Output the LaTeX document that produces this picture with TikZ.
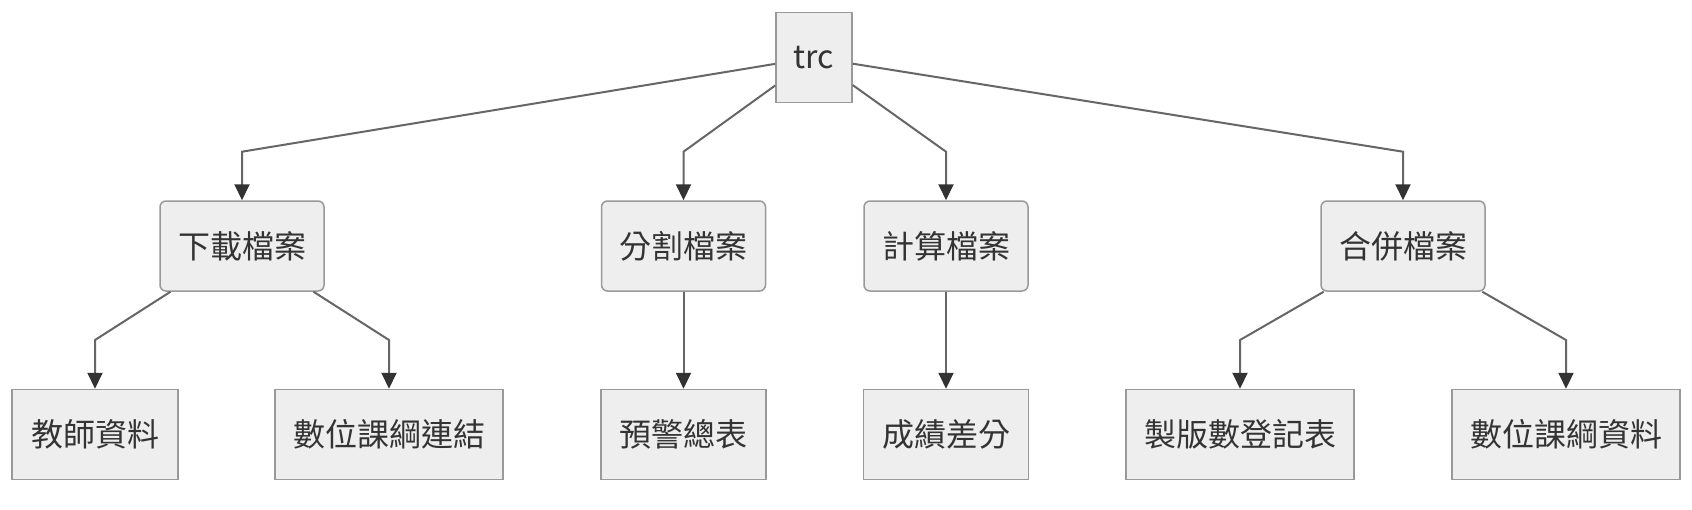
\documentclass[tikz,border=0pt]{standalone}
\usepackage{fontspec}
\setmainfont{Noto Sans CJK TC}
\usetikzlibrary{arrows.meta}
\definecolor{boxfill}{HTML}{EEEEEE}
\definecolor{boxline}{HTML}{999999}
\definecolor{edgeline}{HTML}{666666}
\definecolor{tipfill}{HTML}{333333}
\definecolor{labeltext}{HTML}{333333}
\tikzset{
	task/.style={draw=boxline, fill=boxfill, line width=1.5pt, text=labeltext, font=\fontsize{32}{38}\selectfont, minimum height=90pt, inner sep=0pt},
	roundtask/.style={task, rounded corners=6pt, minimum width=164pt},
	flow/.style={draw=edgeline, line width=2pt, -{Triangle[length=16pt,width=15pt,fill=tipfill,color=tipfill]}}
}

\begin{document}
\begin{tikzpicture}[x=1pt, y=-1pt]
			%%%%% START %%%%%
			
			\useasboundingbox (0, 0) rectangle (1692, 509);
			
			\coordinate (row1) at (0, 151.7);
			\coordinate (row2) at (0, 340);
			
			\node[task, minimum width=76pt] (trc) at (814, 57.5) {trc};
			
			\node[roundtask] (download) at (242, 246) {下載檔案};
			\node[roundtask] (split) at (683.5, 246) {分割檔案};
			\node[roundtask] (compute) at (946, 246) {計算檔案};
			\node[roundtask] (merge) at (1403, 246) {合併檔案};
			
			\node[task, minimum width=166pt] (teacher) at (95, 434.5) {教師資料};
			\node[task, minimum width=228pt] (links) at (389, 434.5) {數位課綱連結};
			\node[task, minimum width=165pt] (warning) at (683.5, 434.5) {預警總表};
			\node[task, minimum width=165pt] (scores) at (946, 434.5) {成績差分};
			\node[task, minimum width=228pt] (register) at (1240, 434.5) {製版數登記表};
			\node[task, minimum width=228pt] (syllabus) at (1566, 434.5) {數位課綱資料};
			
			\draw[flow] (trc) -- (download |- row1) -- (download);
			\draw[flow] (trc) -- (split |- row1) -- (split);
			\draw[flow] (trc) -- (compute |- row1) -- (compute);
			\draw[flow] (trc) -- (merge |- row1) -- (merge);
			
			\draw[flow] (download) -- (teacher |- row2) -- (teacher);
			\draw[flow] (download) -- (links |- row2) -- (links);
			\draw[flow] (split) -- (warning);
			\draw[flow] (compute) -- (scores);
			\draw[flow] (merge) -- (register |- row2) -- (register);
			\draw[flow] (merge) -- (syllabus |- row2) -- (syllabus);
			
			%%%%% END %%%%%
\end{tikzpicture}
\end{document}
